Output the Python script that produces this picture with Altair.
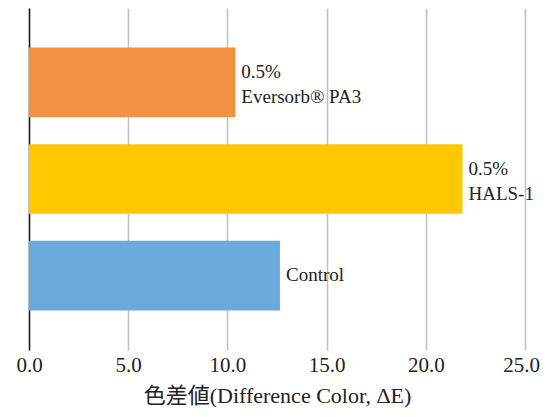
import altair as alt
import pandas as pd

categories = ["Eversorb", "HALS-1", "Control"]
labels = ["0.5%\nEversorb\u00ae PA3", "0.5%\nHALS-1", " Control"]
lines = [2, 2, 1]
values = [10.4, 21.85, 12.65]
colors = ["#F29241", "#FFC800", "#6BABDC"]

df = pd.DataFrame({"cat": categories, "label": labels, "lines": lines, "value": values, "color": colors})

serif = "Liberation Serif"

y = alt.Y("cat:N", sort=categories, title=None,
          scale=alt.Scale(paddingInner=0.28, paddingOuter=0.41),
          axis=alt.Axis(labels=False, ticks=False, domainColor="#1a1a1a", domainWidth=1.5, grid=False))
x = alt.X("value:Q", title="色差値(Difference Color, ΔE)",
          scale=alt.Scale(domain=[0, 25], nice=False),
          axis=alt.Axis(values=[0, 5, 10, 15, 20, 25], format=".1f", domain=False, ticks=False,
                        grid=True, gridColor="#C0C0C0", gridWidth=1.5, labelFlush=False,
                        labelOffset={"condition": {"test": "datum.value == 25", "value": -4}, "value": 0},
                        labelFont=serif, labelFontSize=21, labelColor="#222222", labelPadding=4,
                        titleFont="Liberation Serif, Noto Sans CJK TC", titleFontSize=22,
                        titleFontWeight="normal", titleColor="#222222", titlePadding=10))

bars = alt.Chart(df).mark_bar().encode(
    x=x, y=y, color=alt.Color("color:N", scale=None)
)

text2 = alt.Chart(df).transform_filter("datum.lines == 2").mark_text(
    align="left", baseline="middle", dx=6, dy=-10, lineBreak="\n",
    font=serif, fontSize=19, lineHeight=25, color="#222222").encode(
    x="value:Q", y=alt.Y("cat:N", sort=categories), text="label:N"
)
text1 = alt.Chart(df).transform_filter("datum.lines == 1").mark_text(
    align="left", baseline="middle", dx=6, dy=-1,
    font=serif, fontSize=19, color="#222222").encode(
    x="value:Q", y=alt.Y("cat:N", sort=categories), text="label:N"
)

chart = (bars + text2 + text1).properties(
    width=496, height=342,
    padding={"left": 21, "top": 0, "right": 15, "bottom": 59},
    autosize=alt.AutoSizeParams(type="none"),
).configure_view(stroke=None)

chart.save("out.html", embed_options={"renderer": "svg", "actions": False})
